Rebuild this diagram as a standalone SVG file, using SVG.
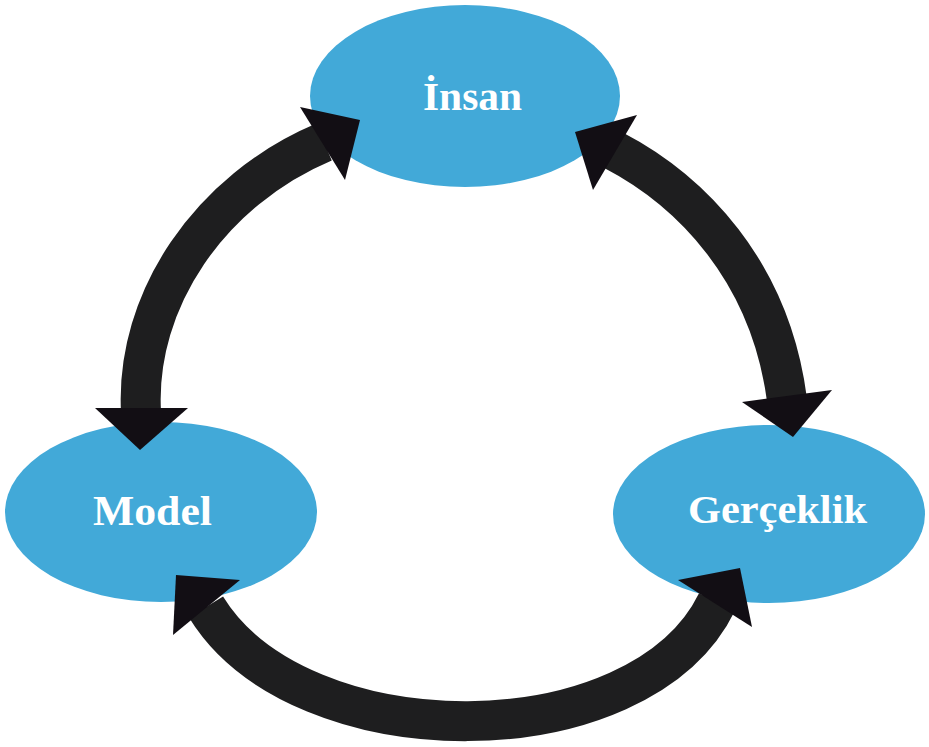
<svg xmlns="http://www.w3.org/2000/svg" width="929" height="747" viewBox="0 0 929 747">
<style>
.node{fill:#42a9d8}
.lbl{font-family:"Liberation Serif","Times New Roman",serif;font-weight:bold;fill:#ffffff}
.shaft{fill:none;stroke:#1e1e1f;stroke-width:40}
.head{fill:#120e14}
</style>
<rect width="929" height="747" fill="#ffffff"/>
<g id="node-insan">
<ellipse class="node" cx="465" cy="96" rx="155" ry="91"/>
</g>
<g id="node-model">
<ellipse class="node" cx="161" cy="512" rx="156" ry="90"/>
</g>
<g id="node-gerceklik">
<ellipse class="node" cx="769" cy="514" rx="156" ry="89"/>
</g>
<g id="connectors">
<path class="shaft" d="M141,412 C135,300 210,190 324,142"/>
<polygon class="head" points="95,408 188,408 140,450"/>
<polygon class="head" points="300,107 360,120 345,180"/>
<path class="shaft" d="M613,150 C690,190 770,270 787,400"/>
<polygon class="head" points="575,132 637,115 593,190"/>
<polygon class="head" points="742,402 832,390 793,437"/>
<path class="shaft" d="M206,607 C300,760 640,760 717,602"/>
<polygon class="head" points="176,575 240,580 173,635"/>
<polygon class="head" points="678,580 740,568 752,627"/>
</g>
<g id="labels">
<text class="lbl" x="423" y="110" font-size="40" textLength="99" lengthAdjust="spacingAndGlyphs">İnsan</text>
<text class="lbl" x="93" y="525" font-size="43" textLength="119" lengthAdjust="spacingAndGlyphs">Model</text>
<text class="lbl" x="688" y="523" font-size="41" textLength="179" lengthAdjust="spacingAndGlyphs">Gerçeklik</text>
</g>
</svg>
